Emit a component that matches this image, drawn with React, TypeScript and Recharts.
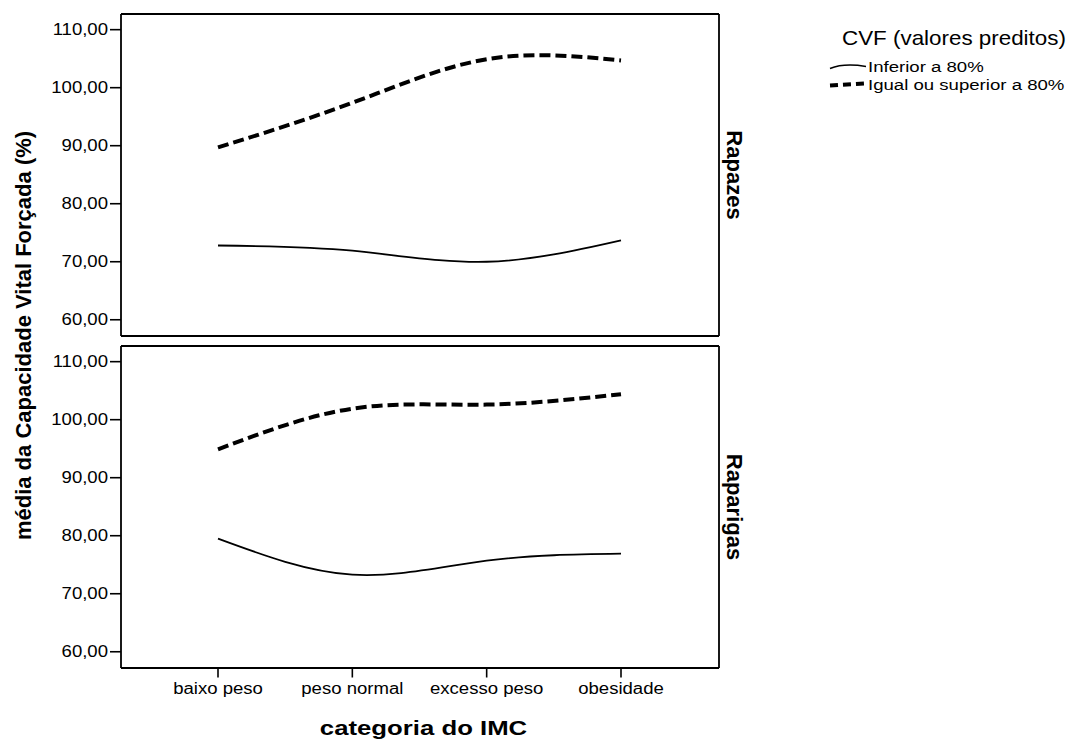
import React from 'react';
import { LineChart, Line, XAxis, YAxis, Legend } from 'recharts';

const categories = ['baixo peso', 'peso normal', 'excesso peso', 'obesidade'];
const rapazesInferior = [72.8, 71.9, 70.0, 73.7];
const rapazesIgual = [89.7, 97.4, 104.9, 104.7];
const raparigasInferior = [79.5, 73.3, 75.7, 76.9];
const raparigasIgual = [94.9, 101.9, 102.6, 104.4];
const yTicks = [60, 70, 80, 90, 100, 110];
const seriesNames = ['Inferior a 80%', 'Igual ou superior a 80%'];
const legendTitle = 'CVF (valores preditos)';
const panelNames = ['Rapazes', 'Raparigas'];
const yTitle = 'média da Capacidade Vital Forçada (%)';
const xTitle = 'categoria do IMC';

const dataRapazes = categories.map((c, i) => ({ name: c, inferior: rapazesInferior[i], igual: rapazesIgual[i] }));
const dataRaparigas = categories.map((c, i) => ({ name: c, inferior: raparigasInferior[i], igual: raparigasIgual[i] }));

const FONT = "'Liberation Sans', Arial, Helvetica, sans-serif";
const Y_DOMAIN: [number, number] = [57.2, 112.7];
const X_PADDING = { left: 97, right: 98 };
const DASH = '11 5';

const fmt = (v: number) => v.toFixed(2).replace('.', ',');

const YTick = (props: any) => {
  const { x, y, payload } = props;
  return (
    <text transform={`translate(${x},${y}) scale(1.16,1)`} textAnchor="end" dy="0.355em" fontSize={16} fontFamily={FONT} fill="#000">
      {fmt(payload.value)}
    </text>
  );
};

const XTick = (props: any) => {
  const { x, y, payload } = props;
  return (
    <text transform={`translate(${x},${y}) scale(1.16,1)`} textAnchor="middle" y={14.5} fontSize={16} fontFamily={FONT} fill="#000">
      {payload.value}
    </text>
  );
};

const LegendContent = (props: any) => {
  const payload = [...(props.payload || [])].sort(
    (a: any, b: any) => seriesNames.indexOf(a.value) - seriesNames.indexOf(b.value)
  );
  return (
    <svg width={253} height={90} style={{ overflow: 'visible' }}>
      <text transform="translate(22,25) scale(1.12,1)" fontSize={20} fontFamily={FONT} fill="#000">{legendTitle}</text>
      {payload.map((entry: any, i: number) => {
        const dashed = !!(entry.payload && entry.payload.strokeDasharray);
        const baseY = 51.5 + i * 18;
        return (
          <g key={i}>
            {dashed ? (
              <path d={`M10,${baseY - 4} L44,${baseY - 6}`} stroke="#000" strokeWidth={4} strokeDasharray="8 5" fill="none" />
            ) : (
              <path d={`M10,${baseY - 3} C20,${baseY - 7} 34,${baseY - 7} 46,${baseY - 5}`} stroke="#000" strokeWidth={1.5} fill="none" />
            )}
            <text transform={`translate(48,${baseY}) scale(1.2,1)`} fontSize={15.5} fontFamily={FONT} fill="#000">{entry.value}</text>
          </g>
        );
      })}
    </svg>
  );
};

const axisLine = { stroke: '#000', strokeWidth: 1.8 };
const tickLine = { stroke: '#000', strokeWidth: 1.6 };

export default function App() {
  const lineProps = { type: 'natural' as const, stroke: '#000', dot: false, activeDot: false, isAnimationActive: false };
  return (
    <div style={{ position: 'absolute', left: 0, top: 0, width: 1073, height: 740, overflow: 'hidden', background: '#fff' }}>
      <div style={{ position: 'absolute', left: 0, top: 0 }}>
        <LineChart width={1073} height={346} data={dataRapazes} margin={{ top: 13, right: 353, bottom: 8, left: 61 }}>
          <XAxis dataKey="name" type="category" scale="point" padding={X_PADDING} axisLine={axisLine} tickLine={false} tick={false} height={2} />
          <XAxis xAxisId="top" dataKey="name" orientation="top" scale="point" axisLine={axisLine} tick={false} tickLine={false} height={1} />
          <YAxis domain={Y_DOMAIN} ticks={yTicks} allowDataOverflow axisLine={axisLine} tickLine={tickLine} tick={<YTick />} tickSize={11} tickMargin={2} width={60} interval={0} />
          <YAxis yAxisId="right" orientation="right" domain={Y_DOMAIN} axisLine={axisLine} tick={false} tickLine={false} width={1} />
          <Line {...lineProps} dataKey="inferior" name={seriesNames[0]} strokeWidth={1.8} />
          <Line {...lineProps} dataKey="igual" name={seriesNames[1]} strokeWidth={4} strokeDasharray={DASH} />
          <Legend
            layout="horizontal"
            verticalAlign="middle"
            align="center"
            content={<LegendContent />}
            wrapperStyle={{ position: 'absolute', left: 820, top: 20, width: 253, height: 90 }}
          />
        </LineChart>
      </div>
      <div style={{ position: 'absolute', left: 0, top: 338 }}>
        <LineChart width={760} height={402} data={dataRaparigas} margin={{ top: 7, right: 40, bottom: 32, left: 61 }}>
          <XAxis dataKey="name" type="category" scale="point" padding={X_PADDING} axisLine={axisLine} tickLine={tickLine} tick={<XTick />} tickSize={9.5} tickMargin={2} height={40} interval={0} />
          <XAxis xAxisId="top" dataKey="name" orientation="top" scale="point" axisLine={axisLine} tick={false} tickLine={false} height={1} />
          <YAxis domain={Y_DOMAIN} ticks={yTicks} allowDataOverflow axisLine={axisLine} tickLine={tickLine} tick={<YTick />} tickSize={11} tickMargin={2} width={60} interval={0} />
          <YAxis yAxisId="right" orientation="right" domain={Y_DOMAIN} axisLine={axisLine} tick={false} tickLine={false} width={1} />
          <Line {...lineProps} dataKey="inferior" name={seriesNames[0]} strokeWidth={1.8} />
          <Line {...lineProps} dataKey="igual" name={seriesNames[1]} strokeWidth={4} strokeDasharray={DASH} />
        </LineChart>
      </div>
      <svg width={1073} height={740} style={{ position: 'absolute', left: 0, top: 0, pointerEvents: 'none' }}>
        <text transform="translate(31.4,335.5) rotate(-90)" textAnchor="middle" fontSize={22} fontWeight="bold" fontFamily={FONT} fill="#000">{yTitle}</text>
        <text transform="translate(726.5,175) rotate(90)" textAnchor="middle" fontSize={22} fontWeight="bold" fontFamily={FONT} fill="#000">{panelNames[0]}</text>
        <text transform="translate(726.5,507) rotate(90)" textAnchor="middle" fontSize={22} fontWeight="bold" fontFamily={FONT} fill="#000">{panelNames[1]}</text>
        <text transform="translate(423.5,734.5) scale(1.32,1)" textAnchor="middle" fontSize={19.5} fontWeight="bold" fontFamily={FONT} fill="#000">{xTitle}</text>
      </svg>
    </div>
  );
}
